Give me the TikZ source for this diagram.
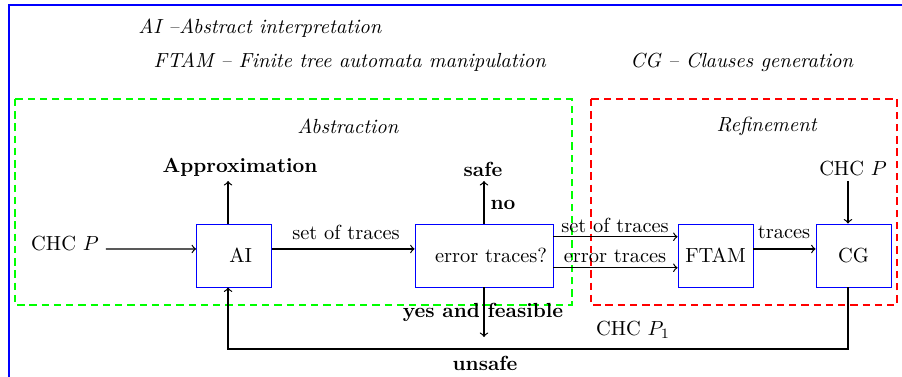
\documentclass[tikz,border=0pt]{standalone}
\begin{document}
\begin{tikzpicture}[x=0.49pt,y=-0.49pt,
  box/.style={draw=blue, minimum width=36.75pt, minimum height=30.9pt, inner sep=0pt},
  arr/.style={->, semithick},
  ln/.style={semithick},
  region/.style={thick, dash pattern=on 3.6pt off 2.4pt}]
\useasboundingbox (0,0) rectangle (902,377);
\clip (0,0) rectangle (902,377);
% frame
\draw[blue, thick] (9,377) -- (9,5) -- (902,5);
% legend
\node (lg1) at (260,28) {\textit{AI --Abstract interpretation}};
\node (lg2) at (350,62) {\textit{FTAM -- Finite tree automata manipulation}};
\node (lg3) at (742,62) {\textit{CG -- Clauses generation}};
% regions
\draw[region, green] (15,99) rectangle (572,305);
\draw[region, red] (591,99) rectangle (897,305);
\node (abs) at (348,126) {\textit{Abstraction}};
\node (ref) at (767,126) {\textit{Refinement}};
% boxes
\node[box] (ai) at (234,255.5) {\hspace{6.5pt}AI};
\node[box, minimum width=67.6pt] (err) at (484,255.5) {\hspace{6.9pt}error traces?};
\node[box] (ftam) at (715.5,255.5) {FTAM};
\node[box] (cg) at (853.5,255.5) {CG};
% text nodes
\node (chcp) at (65,244) {CHC $P$};
\node (chcq) at (853,169) {CHC $P$};
\node (approx) at (240,167) {\textbf{Approximation}};
\node (safe) at (483,169) {\textbf{safe}};
\node (no) at (503,205) {\textbf{no}};
\node (yes) at (483,312) {\textbf{yes and feasible}};
\node (unsafe) at (485,363) {\textbf{unsafe}};
\node (chcp1) at (633,330) {CHC $P_1$};
\node (l1) at (346,232) {set of traces};
\node (l2) at (615,225) {set of traces};
\node (l3) at (615,256) {error traces};
\node (l4) at (784,232) {traces};
\coordinate (yesend) at (484,337);
\coordinate (ret) at (600,349);
% connectors
\draw[arr] (chcp.east |- 0,249) -- ([yshift=3.2pt]ai.west);
\draw[arr] ([yshift=3.2pt]ai.east) -- ([yshift=3.2pt]err.west);
\draw[arr] ([yshift=9.2pt]err.east) -- ([yshift=9.2pt]ftam.west);
\draw[arr] ([yshift=-6pt]err.east) -- ([yshift=-6pt]ftam.west);
\draw[arr] ([yshift=3.2pt]ftam.east) -- ([yshift=3.2pt]cg.west);
\draw[arr] ([xshift=-2.9pt]ai.north) -- ([xshift=-2.9pt]ai.north |- 0,181);
\draw[arr] (err.north) -- (err.north |- 0,181);
\draw[arr] (err.south) -- (yesend);
\draw[arr] ([xshift=-2.7pt]cg.north |- 0,181) -- ([xshift=-2.7pt]cg.north);
\draw[arr] ([xshift=-2.7pt]cg.south) |- (ret) -| ([xshift=-2.9pt]ai.south);
\end{tikzpicture}
\end{document}
